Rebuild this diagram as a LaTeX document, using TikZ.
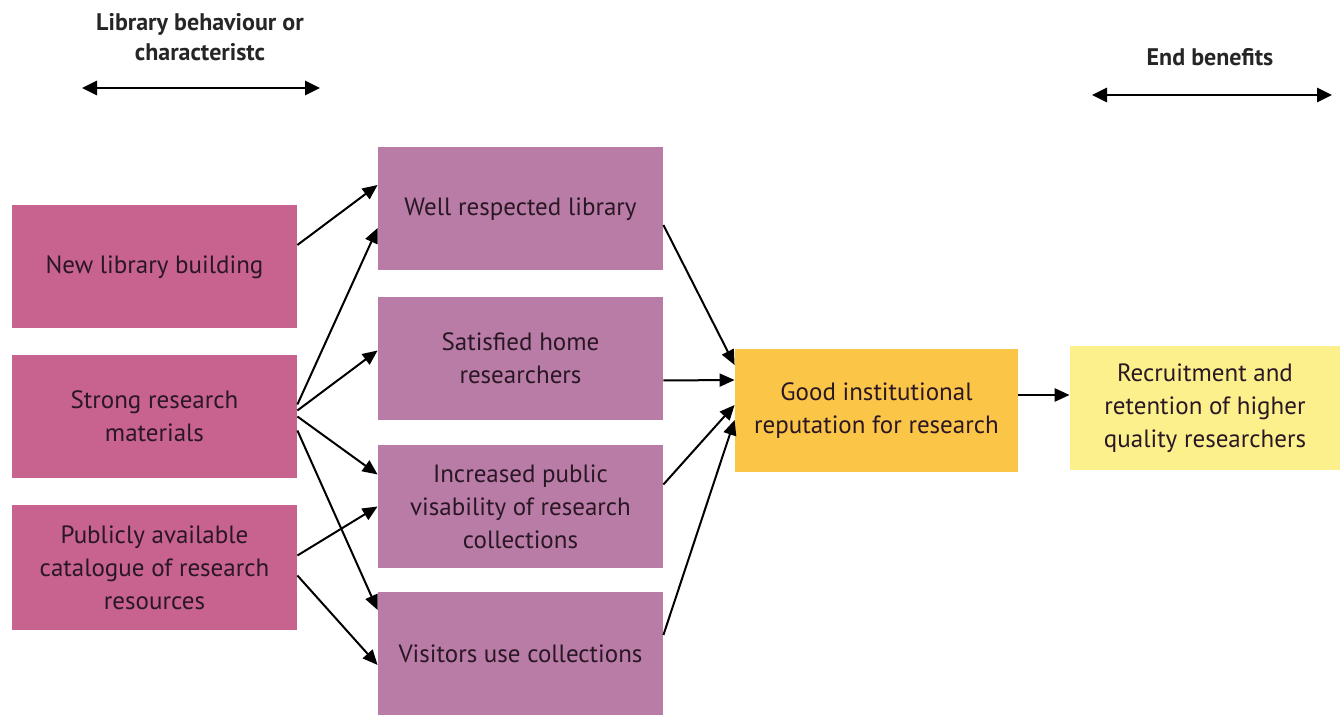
\documentclass[tikz,border=0pt]{standalone}
\usepackage{fontspec}
\setmainfont{PT Sans}
\usetikzlibrary{arrows.meta,positioning}
\definecolor{causepink}{HTML}{C8628F}
\definecolor{effectmauve}{HTML}{B97CA7}
\definecolor{repgold}{HTML}{FBC547}
\definecolor{benefityellow}{HTML}{FBF08C}
\definecolor{boxtext}{HTML}{2A1724}
\tikzset{
  cause/.style={fill=causepink, minimum width=142.5pt, minimum height=61.5pt, align=center, text=boxtext, font=\fontsize{12.5}{16.5}\selectfont},
  effect/.style={cause, fill=effectmauve},
  link/.style={-{Triangle[length=7.5pt,width=6.5pt]}, line width=1pt},
  span/.style={{Triangle[length=7.5pt,width=7pt]}-{Triangle[length=7.5pt,width=7pt]}, line width=1.4pt},
  header/.style={font=\bfseries\fontsize{12}{15}\selectfont, align=center, text=black!85}
}
\begin{document}
\begin{tikzpicture}[x=0.5pt,y=-0.5pt]
\useasboundingbox (0,0) rectangle (1340,715);
% headers
\node[header] (libhead) at (200,37) {Library behaviour or\\characteristc};
\node[header] (endhead) at (1210,57) {End benefits};
\coordinate (la) at (82,88); \coordinate (lb) at (320,88);
\coordinate (ea) at (1092,95); \coordinate (eb) at (1332,95);
\draw[span] (la) -- (lb);
\draw[span] (ea) -- (eb);
% boxes
\node[cause] (newbld) at (154.5,267) {New library building};
\node[cause] (strong) at (154.5,416.5) {Strong research\\materials};
\node[cause, minimum height=62.5pt] (catalog) at (154.5,567.5) {Publicly available\\catalogue of research\\resources};
\node[effect] (wellresp) at (520.5,209) {Well respected library};
\node[effect] (satisfied) at (520.5,358.5) {Satisfied home\\researchers};
\node[effect] (visibility) at (520.5,506.5) {Increased public\\visability of research\\collections};
\node[effect] (visitors) at (520.5,654) {Visitors use collections};
\node[cause, fill=repgold, minimum width=141.5pt] (reputation) at (876.5,411) {Good institutional\\reputation for research};
\node[cause, fill=benefityellow, minimum width=135pt, minimum height=62pt] (recruit) at (1205,408) {Recruitment and\\retention of higher\\quality researchers};
% links
\draw[link] ([yshift=11pt]newbld.east) -- ([yshift=12pt]wellresp.west);
\draw[link] ([yshift=6pt]strong.east) -- ([yshift=-9.5pt]wellresp.west);
\draw[link] ([yshift=3pt]strong.east) -- ([yshift=4pt]satisfied.west);
\draw[link] (strong.east) -- ([yshift=16pt]visibility.west);
\draw[link] ([yshift=-7pt]strong.east) -- ([yshift=22pt]visitors.west);
\draw[link] ([yshift=6pt]catalog.east) -- (visibility.west);
\draw[link] ([yshift=-4pt]catalog.east) -- ([yshift=-5.5pt]visitors.west);
\draw[link] ([yshift=-8pt]wellresp.east) -- ([yshift=23pt]reputation.west);
\draw[link] ([yshift=-11pt]satisfied.east) -- ([yshift=15.5pt]reputation.west);
\draw[link] ([yshift=11pt]visibility.east) -- ([yshift=3pt]reputation.west);
\draw[link] ([yshift=9.5pt]visitors.east) -- ([yshift=-4.5pt]reputation.west);
\draw[link, line width=1.3pt] ([yshift=8pt]reputation.east) -- ([yshift=6.5pt]recruit.west);
\end{tikzpicture}
\end{document}
